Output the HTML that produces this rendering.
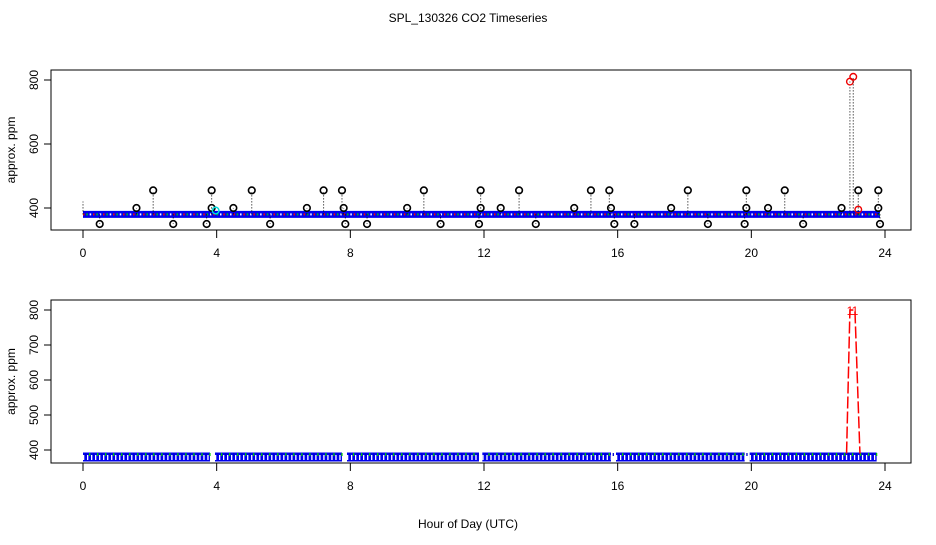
<!DOCTYPE html>
<html><head><meta charset="utf-8"><style>
body{margin:0;background:#fff}
svg text{font-family:"Liberation Sans",sans-serif;font-size:12px;fill:#000}
</style></head><body>
<svg id="c" width="936" height="540" xmlns="http://www.w3.org/2000/svg">
<text x="468" y="22" text-anchor="middle">SPL_130326  CO2 Timeseries</text>
<text x="468" y="528" text-anchor="middle">Hour of Day (UTC)</text>
<g id="top"></g>
<g id="bot"></g>
</svg>
<script>
const xTicks=[0,4,8,12,16,20,24];
const topYTicks=[400,600,800];
const botYTicks=[400,500,600,700,800];
const spikeHours=[0.5,1.6,2.1,2.7,3.7,3.85,3.85,4.5,5.05,5.6,6.7,7.2,7.75,7.8,7.85,8.5,9.7,10.2,10.7,11.85,11.9,11.9,12.5,13.05,13.55,14.7,15.2,15.75,15.8,15.9,16.5,17.6,18.1,18.7,19.8,19.85,19.85,20.5,21.0,21.55,22.7,23.2,23.8,23.8,23.85];
const spikeValues=[350,400,455,350,350,455,400,400,455,350,400,455,455,400,350,350,400,455,350,350,455,400,400,455,350,400,455,455,400,350,350,400,455,350,350,455,400,400,455,350,400,455,400,455,350];
const redHours=[22.95,23.05,23.2];
const redValues=[795,810,395];
const baseline=380;
const segStarts=[0,3.95,7.9,11.95,15.95,19.95];
const segEnds=[3.8,7.75,11.85,15.8,19.8,23.75];
const peakHours=[22.85,22.95,23.1,23.25];
const peakValues=[390,800,800,390];
const NS="http://www.w3.org/2000/svg";
function mk(p,t,a){const e=document.createElementNS(NS,t);for(const k in a)e.setAttribute(k,a[k]);p.appendChild(e);return e;}
function panel(g,box,yMin,yMax,y0,y1,yTicks){
  const x=h=>83+h*(885-83)/24;
  const y=v=>y0+(v-yMin)*(y1-y0)/(yMax-yMin);
  const r=mk(g,'rect',{x:box[0],y:box[1],width:box[2]-box[0],height:box[3]-box[1],fill:'none',stroke:'#000'});
  
  mk(g,'line',{x1:x(0),x2:x(24),y1:box[3],y2:box[3],stroke:'#000'});
  xTicks.forEach(t=>{mk(g,'line',{x1:x(t),x2:x(t),y1:box[3],y2:box[3]+8,stroke:'#000'});
    const tx=mk(g,'text',{x:x(t),y:box[3]+27,'text-anchor':'middle'});tx.textContent=t;
    });
  mk(g,'line',{x1:box[0],x2:box[0],y1:y(yTicks[0]),y2:y(yTicks[yTicks.length-1]),stroke:'#000'});
  yTicks.forEach(t=>{mk(g,'line',{x1:box[0]-7,x2:box[0],y1:y(t),y2:y(t),stroke:'#000'});
    const tx=mk(g,'text',{x:0,y:0,'text-anchor':'middle',transform:`translate(${box[0]-13},${y(t)}) rotate(-90)`});tx.textContent=t;
    });
  const yl=mk(g,'text',{x:0,y:0,'text-anchor':'middle',transform:`translate(${box[0]-36},${(box[1]+box[3])/2}) rotate(-90)`});
  yl.textContent='approx. ppm';
  return {x,y};
}
const T=document.getElementById('top'),B=document.getElementById('bot');
const a=panel(T,[51,70,911,230],400,800,208,80,topYTicks);
const band=mk(T,'line',{x1:a.x(0),x2:a.x(23.85),y1:a.y(baseline),y2:a.y(baseline),stroke:'#0000ee','stroke-width':7});

for(let i=0;i<240;i++){const h=i*0.1;const c=i%3==0?'#f00':(i%3==1?'#0c0':'#fff');
  mk(T,'rect',{x:a.x(h),y:a.y(baseline)-1,width:1.5,height:2,fill:c});}
mk(T,'line',{x1:a.x(0),x2:a.x(0),y1:a.y(baseline),y2:a.y(420),stroke:'#000','stroke-dasharray':'1,2'});
spikeHours.forEach((h,i)=>{const v=spikeValues[i];
  mk(T,'line',{x1:a.x(h),x2:a.x(h),y1:a.y(baseline),y2:a.y(v),stroke:'#000','stroke-dasharray':'1,2'});
  const c=mk(T,'circle',{cx:a.x(h),cy:a.y(v),r:3.3,fill:'none',stroke:'#000','stroke-width':1.6});
  });
redHours.forEach((h,i)=>{const v=redValues[i];
  mk(T,'line',{x1:a.x(h),x2:a.x(h),y1:a.y(baseline),y2:a.y(v),stroke:'#000','stroke-dasharray':'1,2'});
  const c=mk(T,'circle',{cx:a.x(h),cy:a.y(v),r:3.3,fill:'none',stroke:'#e00','stroke-width':1.4});
  });
const cy=mk(T,'circle',{cx:a.x(3.97),cy:a.y(392),r:3.3,fill:'none',stroke:'#0dd','stroke-width':1.5});


const b=panel(B,[51,300,911,463],400,800,450,310,botYTicks);
segStarts.forEach((s,i)=>{
  const l=mk(B,'line',{x1:b.x(s),x2:b.x(segEnds[i]),y1:b.y(baseline),y2:b.y(baseline),stroke:'#0000ee','stroke-width':9});
  
  for(let k=0;s+k*0.12<segEnds[i];k++){const h=s+k*0.12;
    mk(B,'rect',{x:b.x(h),y:b.y(baseline)-2,width:1.3,height:5,fill:'#fff'});
    mk(B,'rect',{x:b.x(h)+2,y:b.y(baseline)-4,width:1.3,height:3,fill:k%2?'#0c0':'#00c'});}
});
const pts=peakHours.map((h,i)=>b.x(h)+','+b.y(peakValues[i])).join(' ');
const pl=mk(B,'polyline',{points:pts,fill:'none',stroke:'#f00','stroke-width':1.5,'stroke-dasharray':'12,3'});

[1,2].forEach(i=>{const t=mk(B,'text',{x:b.x(peakHours[i]),y:b.y(peakValues[i])+5,'text-anchor':'middle',style:'fill:#f00'});t.textContent='1';
  });
</script>
</body></html>
